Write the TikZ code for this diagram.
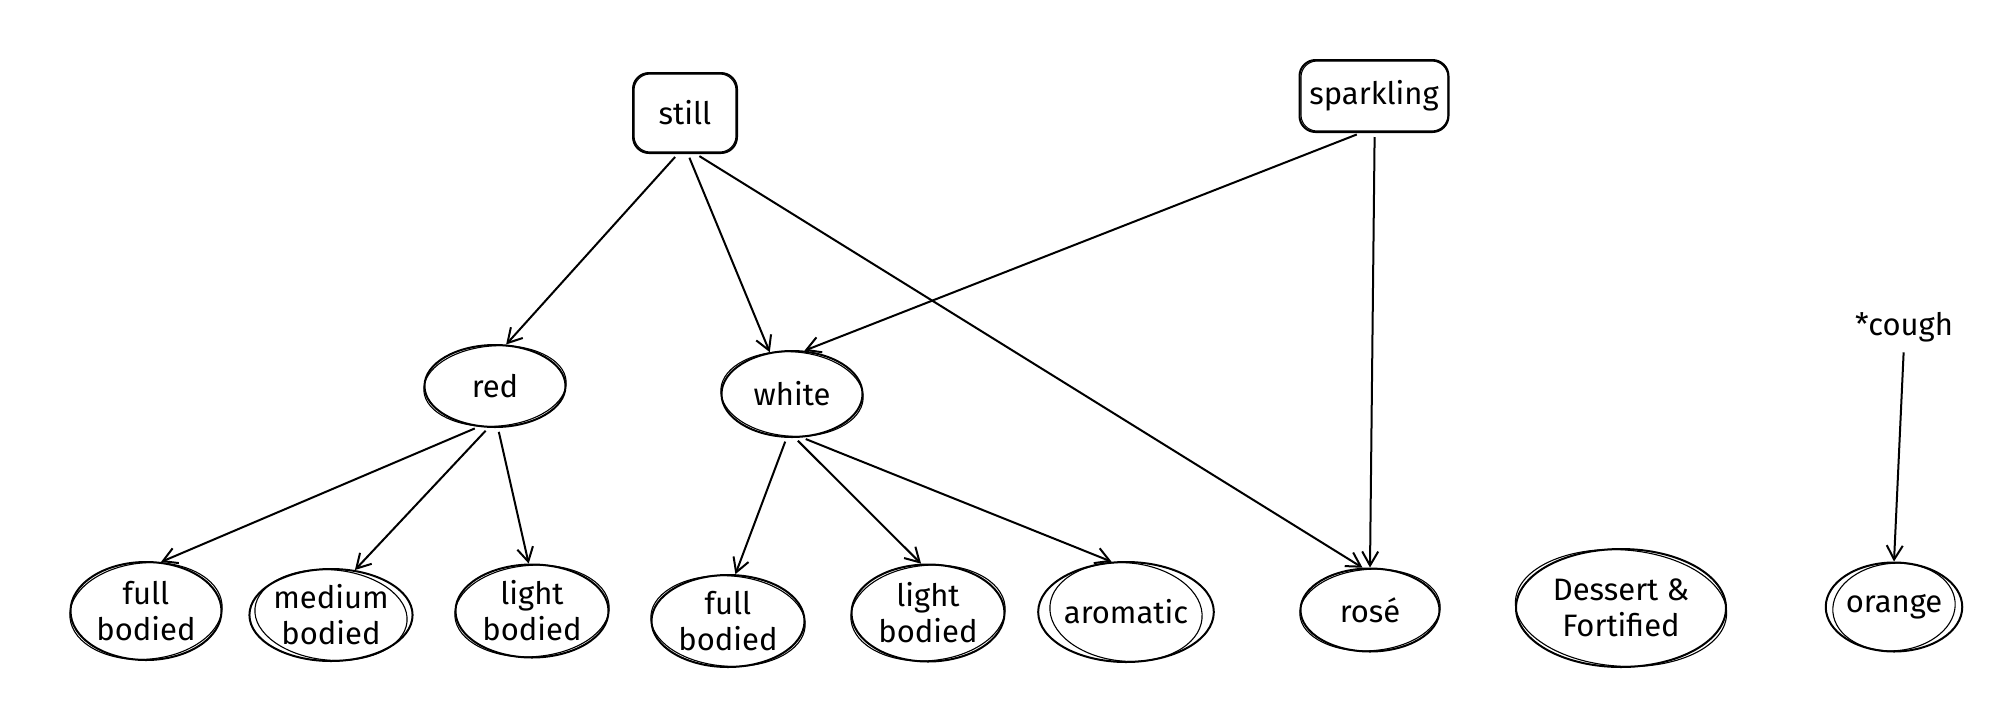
\documentclass[tikz,border=0pt]{standalone}
\usepackage{fontspec}
\setmainfont{Fira Sans}
\usetikzlibrary{shapes.geometric,arrows.meta}
\tikzset{
  ell/.style={ellipse, draw, line width=1pt, inner sep=0pt, align=center, font=\fontsize{15.5}{18}\selectfont},
  box/.style={rectangle, draw, line width=1pt, rounded corners=8pt, inner sep=0pt, font=\fontsize{15.5}{18}\selectfont},
  sketch/.style={line width=0.55pt},
  conn/.style={line width=1pt, -{Straight Barb[length=7pt,width=8pt,line width=1pt]}, shorten <=2pt},
  lbl/.style={font=\fontsize{15.5}{18}\selectfont, inner sep=1pt}
}
% name, x, y, w(px), h(px), text, rotation of sketch stroke
\newcommand\enode[7]{%
  \node[ell, minimum width=#4*0.5pt, minimum height=#5*0.5pt] (#1) at (#2,#3) {#6};
  \draw[sketch, rotate around={#7:(#2,#3)}] (#2,#3) ellipse [x radius=#4*0.25pt+0.4pt, y radius=#5*0.25pt-0.4pt];
}
\begin{document}
\begin{tikzpicture}[x=0.5pt,y=-0.5pt]
\useasboundingbox (0,0) rectangle (2004,708);
% top boxes
\node[box, minimum width=52pt, minimum height=40pt] (still) at (685,113) {still};
\draw[sketch, rounded corners=8pt] (634,74) rectangle (736,152);
\node[box, minimum width=74.5pt, minimum height=36pt] (sparkling) at (1374,96) {sparkling};
\draw[sketch, rounded corners=8pt] (1301,61) rectangle (1448,131);
% middle
\enode{red}{495}{386}{141}{82}{red}{4}
\enode{white}{792}{394}{141}{86}{white}{-4}
% bottom row
\enode{fb1}{146}{611}{151}{98}{full\\bodied}{5}
\enode{mb}{331}{615}{151}{92}{medium\\bodied}{-5}
\enode{lb1}{532}{611}{153}{93}{light\\bodied}{4}
\enode{fb2}{728}{621}{153}{92}{full\\bodied}{-4}
\enode{lb2}{928}{613}{153}{97}{light\\bodied}{5}
\enode{aro}{1126}{612}{151}{100}{aromatic}{-5}
\enode{rose}{1370}{610}{139}{83}{rosé}{4}
\enode{dess}{1621}{608}{210}{118}{Dessert \&\\Fortified}{-4}
\enode{orange}{1894}{607}{121}{89}{orange}{5}
\node[lbl] (cough) at (1904,327) {*cough};
% connectors
\draw[conn] (still.260) -- (red.75);
\draw[conn] (still.274) -- (white.118);
\draw[conn] (still.285) -- (rose.100);
\draw[conn] (sparkling.250) -- (white.74);
\draw[conn] (sparkling.271) -- (rose.90);
\draw[conn] (red.248) -- (fb1.73);
\draw[conn] (red.261) -- (mb.62);
\draw[conn] (red.274) -- (lb1.94);
\draw[conn] (white.263) -- (fb2.81);
\draw[conn] (white.274) -- (lb2.98);
\draw[conn] (white.283) -- (aro.106);
\draw[conn, shorten <=4pt] (cough.south) -- (orange.90);
\end{tikzpicture}
\end{document}
